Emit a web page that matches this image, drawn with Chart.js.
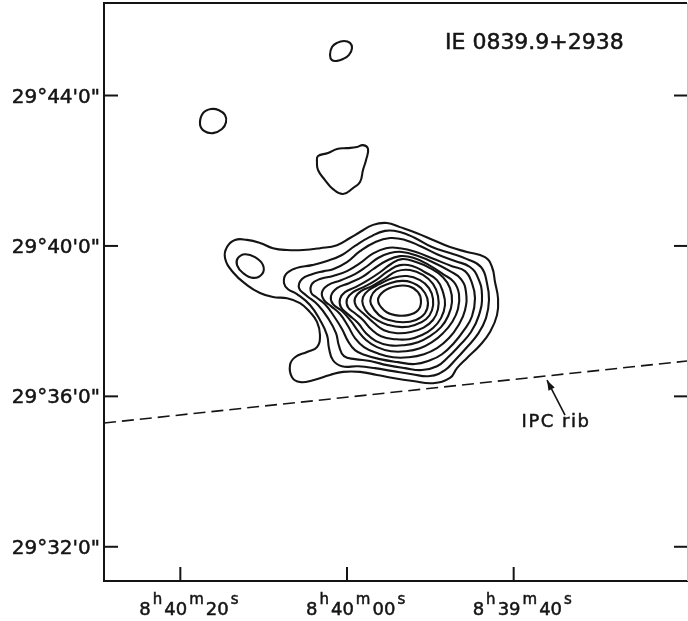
<!DOCTYPE html>
<html>
<head>
<meta charset="utf-8">
<script src="https://cdn.jsdelivr.net/npm/chart.js@4/dist/chart.umd.min.js"></script>
<style>
  html, body { margin: 0; padding: 0; background: #fff; }
  #map { display: block; }
</style>
</head>
<body>
<canvas id="map" width="688" height="621"></canvas>
<script>
// Right ascension in seconds of time past 8h39m00s, declination in arcmin past 29°.
const raTickValues = [80, 60, 40];
const raTickLabels = [
  ['8', 'h', '40', 'm', '20', 's'],
  ['8', 'h', '40', 'm', '00', 's'],
  ['8', 'h', '39', 'm', '40', 's']
];
const decTickValues = [44, 40, 36, 32];
const decTickLabels = ['29°44\'0"', '29°40\'0"', '29°36\'0"', '29°32\'0"'];

const sourceName = 'IE 0839.9+2938';
const ribName = 'IPC rib';

// Isolated faint knots
const knotNorth = [[62.04,45.08],[61.80,45.29],[61.20,45.40],[60.36,45.45],[59.64,45.40],[59.40,45.26],[59.76,45.08],[60.48,44.97],[61.20,44.92],[61.80,44.94]];
const knotWest = [[77.64,43.24],[77.28,43.53],[76.32,43.64],[75.36,43.61],[74.64,43.48],[74.52,43.29],[75.00,43.11],[76.08,43.00],[77.16,43.06]];
const knotCentral = [[63.48,42.39],[62.28,42.47],[61.20,42.58],[60.00,42.60],[58.80,42.63],[58.08,42.68],[57.48,42.58],[57.72,42.28],[58.08,42.02],[58.44,41.70],[59.28,41.54],[60.48,41.38],[61.68,41.51],[62.64,41.75],[63.48,42.02],[63.60,42.23]];
const lobeCore = [[73.08,39.68],[72.24,39.78],[71.04,39.70],[70.08,39.49],[70.20,39.25],[71.28,39.15],[72.48,39.28],[73.20,39.49]];

// Nested surface-brightness levels of the main source, lowest first
const level1 = [[74.64,39.68],[74.40,39.97],[73.44,40.16],[72.00,40.16],[70.44,40.08],[68.88,39.94],[67.20,39.89],[65.28,39.89],[63.24,39.94],[61.20,40.02],[59.64,40.21],[58.44,40.37],[56.88,40.56],[55.20,40.61],[53.64,40.50],[51.60,40.34],[49.68,40.16],[47.64,39.97],[45.60,39.84],[43.44,39.70],[42.60,39.44],[42.24,39.04],[41.88,38.61],[42.00,38.16],[42.84,37.71],[44.04,37.36],[45.60,37.02],[46.80,36.75],[47.64,36.49],[49.68,36.35],[52.08,36.41],[54.48,36.49],[56.40,36.57],[58.44,36.65],[60.48,36.65],[62.04,36.57],[64.08,36.43],[65.64,36.38],[66.60,36.51],[66.84,36.83],[66.24,37.04],[64.80,37.18],[63.60,37.31],[63.24,37.63],[63.60,37.98],[64.44,38.24],[65.64,38.48],[67.20,38.61],[68.88,38.64],[70.44,38.75],[72.00,38.96],[73.68,39.30]];
const level2 = [[67.56,39.01],[67.32,39.25],[66.12,39.41],[64.20,39.49],[62.40,39.60],[60.60,39.76],[59.04,40.00],[57.24,40.24],[55.44,40.40],[53.64,40.37],[51.84,40.21],[49.80,39.97],[47.64,39.81],[45.60,39.65],[43.92,39.44],[43.20,39.01],[42.96,38.56],[43.32,38.08],[44.28,37.66],[45.72,37.28],[47.04,36.96],[48.24,36.70],[50.04,36.54],[52.20,36.59],[54.48,36.67],[56.64,36.75],[58.68,36.80],[60.60,36.80],[61.68,36.96],[62.16,37.28],[62.40,37.63],[63.24,38.03],[64.44,38.43],[66.00,38.72],[67.08,38.85]];
const level3 = [[65.76,38.88],[65.40,39.12],[64.20,39.25],[62.76,39.33],[61.68,39.38],[60.00,39.57],[58.44,39.86],[56.64,40.10],[54.84,40.21],[53.04,40.16],[51.24,40.00],[49.20,39.78],[47.04,39.60],[45.24,39.44],[44.28,39.15],[43.80,38.69],[44.16,38.16],[45.12,37.71],[46.56,37.34],[47.88,37.04],[49.20,36.80],[51.00,36.70],[53.04,36.75],[55.20,36.83],[57.24,36.94],[59.04,36.99],[60.36,37.07],[60.96,37.34],[61.32,37.68],[62.28,38.08],[63.48,38.43],[64.92,38.69]];
const level4 = [[64.32,38.77],[64.20,38.99],[63.24,39.12],[61.68,39.20],[60.00,39.33],[58.44,39.54],[57.00,39.78],[55.32,39.94],[53.64,39.94],[51.72,39.84],[49.56,39.65],[47.40,39.46],[45.84,39.33],[45.00,39.01],[44.64,38.61],[45.00,38.13],[45.96,37.76],[47.16,37.42],[48.60,37.12],[50.04,36.96],[51.84,36.86],[53.88,36.91],[56.04,36.99],[57.84,37.10],[59.04,37.23],[59.88,37.47],[60.60,37.79],[61.56,38.13],[62.64,38.45],[63.72,38.64]];
const level5 = [[62.76,38.56],[63.00,38.77],[62.28,38.96],[60.72,39.09],[59.04,39.25],[57.60,39.46],[56.28,39.68],[54.84,39.81],[53.40,39.84],[51.48,39.73],[49.44,39.54],[47.64,39.33],[46.32,39.12],[45.72,38.77],[45.84,38.29],[46.68,37.87],[47.76,37.55],[49.20,37.28],[50.76,37.12],[52.56,37.04],[54.48,37.04],[56.40,37.15],[57.96,37.31],[59.04,37.55],[59.88,37.87],[60.84,38.19],[61.92,38.40]];
const level6 = [[61.68,38.45],[61.92,38.67],[61.20,38.88],[59.76,39.01],[58.20,39.17],[56.88,39.38],[55.32,39.60],[53.64,39.73],[51.96,39.68],[50.16,39.49],[48.48,39.25],[47.16,39.04],[46.56,38.72],[46.68,38.32],[47.40,37.97],[48.48,37.68],[49.80,37.44],[51.24,37.28],[52.92,37.20],[54.72,37.20],[56.40,37.31],[57.72,37.50],[58.68,37.74],[59.52,38.00],[60.60,38.27]];
const level7 = [[60.72,38.37],[60.84,38.59],[60.24,38.77],[58.92,38.91],[57.48,39.09],[56.04,39.30],[54.72,39.52],[53.40,39.65],[51.72,39.57],[50.04,39.41],[48.48,39.17],[47.64,38.88],[47.40,38.51],[47.88,38.13],[48.72,37.84],[50.04,37.60],[51.48,37.44],[53.16,37.36],[54.96,37.36],[56.52,37.47],[57.72,37.68],[58.68,37.95],[59.76,38.16]];
const level8 = [[59.88,38.37],[60.00,38.59],[59.28,38.77],[57.96,38.91],[56.52,39.09],[55.08,39.33],[53.64,39.49],[52.08,39.46],[50.64,39.30],[49.20,39.09],[48.48,38.77],[48.24,38.43],[48.72,38.08],[49.68,37.82],[51.00,37.63],[52.56,37.52],[54.24,37.52],[55.92,37.60],[57.12,37.79],[58.08,38.03],[59.04,38.21]];
const level9 = [[58.92,38.40],[59.04,38.61],[58.32,38.80],[57.00,38.93],[55.56,39.12],[54.00,39.33],[52.44,39.36],[50.88,39.23],[49.68,38.99],[49.08,38.67],[49.08,38.32],[49.68,38.03],[50.88,37.82],[52.32,37.71],[54.00,37.68],[55.56,37.76],[56.76,37.95],[57.96,38.19]];
const level10 = [[58.08,38.43],[58.08,38.64],[57.36,38.83],[56.04,38.99],[54.48,39.15],[52.80,39.20],[51.24,39.09],[50.16,38.88],[49.68,38.59],[49.80,38.29],[50.52,38.05],[51.84,37.90],[53.40,37.84],[55.08,37.90],[56.40,38.03],[57.48,38.21]];
const level11 = [[57.12,38.45],[57.12,38.64],[56.52,38.83],[55.08,38.99],[53.28,39.07],[51.60,38.96],[50.64,38.75],[50.28,38.48],[50.64,38.21],[51.72,38.03],[53.28,37.97],[54.96,38.03],[56.16,38.16]];
const level12 = [[56.28,38.56],[55.56,38.80],[54.12,38.93],[52.56,38.93],[51.48,38.77],[51.12,38.53],[51.48,38.29],[52.68,38.16],[54.24,38.16],[55.56,38.29]];

// Edge of the detector support rib, and the pointer to it
const ribEdge = [[89.16,35.29],[19.20,36.94]];
const ribPointer = [[33.84,35.50],[36.00,36.43]];
const ribLabelAt = [34.92, 35.34];

const INK = '#141414';
const CLEAR = 'rgba(0,0,0,0)';

// A closed contour: the last vertex is prepended and the first two appended,
// so every visible spline segment has neighbours on both sides; the two
// helper segments at the ends are left unpainted.
const closedLoop = pts => [pts[pts.length - 1], ...pts, pts[0], pts[1]].map(([x, y]) => ({ x, y }));
const openPath = pts => pts.map(([x, y]) => ({ x, y }));

const loops = [knotNorth, knotWest, knotCentral, lobeCore,
  level1, level2, level3, level4, level5, level6,
  level7, level8, level9, level10, level11, level12];

const datasets = loops.map(pts => {
  const data = closedLoop(pts);
  const last = data.length - 1;
  return {
    data,
    showLine: true,
    borderColor: INK,
    borderWidth: 2.1,
    pointRadius: 0,
    tension: 0.45,
    fill: false,
    segment: {
      borderColor: c => (c.p0DataIndex === 0 || c.p1DataIndex === last) ? CLEAR : INK
    }
  };
});
datasets.push({
  data: openPath(ribEdge),
  showLine: true,
  borderColor: INK,
  borderWidth: 1.6,
  borderDash: [12, 6],
  pointRadius: 0,
  tension: 0
});
datasets.push({
  data: openPath(ribPointer),
  showLine: true,
  borderColor: INK,
  borderWidth: 1.6,
  pointRadius: 0,
  tension: 0
});

// text with a hairline outline so the strokes read a little heavier
function ink(ctx, t, x, y) {
  ctx.fillText(t, x, y);
  ctx.strokeText(t, x, y);
}

function drawSegments(ctx, parts, x0, baseline) {
  let x = x0;
  parts.forEach((t, i) => {
    const sup = i % 2 === 1;
    ctx.font = sup ? '15px "DejaVu Sans"' : '18px "DejaVu Sans"';
    ink(ctx, t, x, sup ? baseline - 11 : baseline);
    x += ctx.measureText(t).width + 2;
  });
}

const annotations = {
  id: 'annotations',
  afterDatasetsDraw(chart) {
    const { ctx, chartArea: a, scales: { x, y } } = chart;
    const seg = (x1, y1, x2, y2) => { ctx.beginPath(); ctx.moveTo(x1, y1); ctx.lineTo(x2, y2); ctx.stroke(); };
    ctx.save();

    // frame: top edge and faint right edge
    ctx.strokeStyle = INK;
    ctx.lineWidth = 2;
    seg(a.left - 1, a.top, a.right, a.top);
    ctx.strokeStyle = '#c4c4c4';
    ctx.lineWidth = 1;
    seg(a.right + 0.5, a.top, a.right + 0.5, a.bottom);

    // inward tick marks
    ctx.strokeStyle = INK;
    ctx.lineWidth = 2;
    decTickValues.forEach(v => {
      const py = y.getPixelForValue(v);
      seg(a.left, py, a.left + 14, py);
      seg(a.right - 13, py, a.right, py);
    });
    raTickValues.forEach(v => {
      const px = x.getPixelForValue(v);
      seg(px, a.bottom, px, a.bottom - 14);
    });

    ctx.fillStyle = INK;
    ctx.strokeStyle = INK;
    ctx.lineWidth = 0.5;

    // declination labels
    ctx.textBaseline = 'alphabetic';
    ctx.textAlign = 'right';
    ctx.font = '20px "DejaVu Sans"';
    decTickValues.forEach((v, i) => {
      const py = y.getPixelForValue(v);
      ink(ctx, decTickLabels[i], a.left - 4, py + 7);
    });

    // right ascension labels with raised unit letters
    ctx.textAlign = 'left';
    raTickValues.forEach((v, i) => {
      const px = x.getPixelForValue(v);
      drawSegments(ctx, raTickLabels[i], px - 41, a.bottom + 34);
    });

    // source name
    ctx.font = '22px "DejaVu Sans"';
    ink(ctx, sourceName, 445, 49);

    // pointer head
    const tail = { x: x.getPixelForValue(ribPointer[0][0]), y: y.getPixelForValue(ribPointer[0][1]) };
    const tip = { x: x.getPixelForValue(ribPointer[1][0]), y: y.getPixelForValue(ribPointer[1][1]) };
    const ang = Math.atan2(tip.y - tail.y, tip.x - tail.x);
    ctx.beginPath();
    ctx.moveTo(tip.x, tip.y);
    ctx.lineTo(tip.x - 10 * Math.cos(ang) + 3.5 * Math.sin(ang), tip.y - 10 * Math.sin(ang) - 3.5 * Math.cos(ang));
    ctx.lineTo(tip.x - 10 * Math.cos(ang) - 3.5 * Math.sin(ang), tip.y - 10 * Math.sin(ang) + 3.5 * Math.cos(ang));
    ctx.closePath();
    ctx.fill();

    // rib label
    ctx.textAlign = 'center';
    ctx.textBaseline = 'middle';
    ctx.font = '18px "DejaVu Sans"';
    ctx.letterSpacing = '1.5px';
    ink(ctx, ribName, x.getPixelForValue(ribLabelAt[0]), y.getPixelForValue(ribLabelAt[1]) + 1);
    ctx.restore();
  }
};

new Chart(document.getElementById('map'), {
  type: 'scatter',
  data: { datasets },
  options: {
    responsive: false,
    animation: false,
    events: [],
    layout: { padding: { top: 3, right: 1, left: 0, bottom: 0 } },
    plugins: { legend: { display: false }, tooltip: { enabled: false } },
    scales: {
      x: {
        type: 'linear',
        reverse: true,
        min: 19.2,
        max: 89.16,
        grid: { display: false },
        ticks: { display: false },
        border: { display: true, color: INK, width: 2 },
        afterFit: s => { s.height = 40; }
      },
      y: {
        type: 'linear',
        min: 31.09,
        max: 46.46,
        grid: { display: false },
        ticks: { display: false },
        border: { display: true, color: INK, width: 2 },
        afterFit: s => { s.width = 104; }
      }
    }
  },
  plugins: [annotations]
});
</script>
</body>
</html>
